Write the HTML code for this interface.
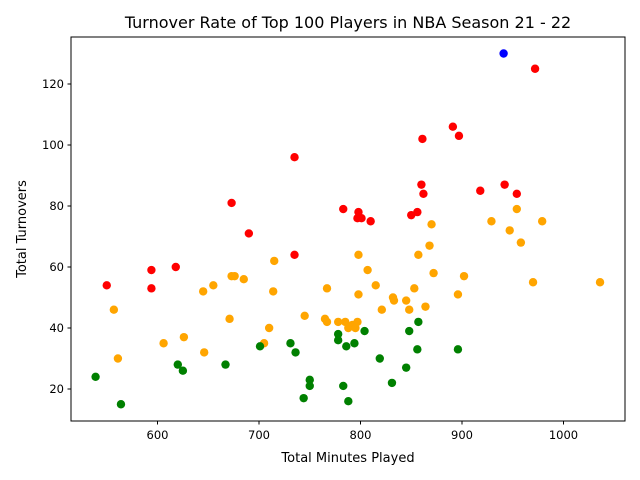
<!DOCTYPE html>
<html><head><meta charset="utf-8"><style>
body{margin:0;background:#fff}
svg{display:block;font-family:"DejaVu Sans","Liberation Sans",sans-serif}
</style></head><body>
<svg id="chart" width="640" height="480">
<rect width="640" height="480" fill="#fff"/>
<text x="348" y="28" text-anchor="middle" font-size="16">Turnover Rate of Top 100 Players in NBA Season 21 - 22</text>
<text x="348" y="462" text-anchor="middle" font-size="13">Total Minutes Played</text>
<text transform="translate(26,229) rotate(-90)" text-anchor="middle" font-size="13">Total Turnovers</text>
<g id="ticks"></g>
<g id="points"></g>
<rect x="71" y="37" width="554" height="384" fill="none" stroke="#000" stroke-width="1"/>
</svg>
<script>
const redX=[550,594,594,618,673,690,735,735,783,798,797,801,810,850,856,860,862,861,891,897,918,942,954,972];
const redY=[54,53,59,60,81,71,96,64,79,78,76,76,75,77,78,87,84,102,106,103,85,87,84,125];
const blueX=[941];
const blueY=[130];
const orangeX=[557,561,606,626,645,646,655,671,673,676,685,705,710,715,714,745,767,765,767,778,785,788,792,797,795,798,798,807,815,821,832,833,845,848,853,857,864,868,870,872,896,902,929,947,954,958,970,979,1036];
const orangeY=[46,30,35,37,52,32,54,43,57,57,56,35,40,62,52,44,53,43,42,42,42,40,41,42,40,51,64,59,54,46,50,49,49,46,53,64,47,67,74,58,51,57,75,72,79,68,55,75,55];
const greenX=[539,564,620,625,667,701,731,736,744,750,750,778,778,783,786,788,794,804,819,831,845,848,857,856,896];
const greenY=[24,15,28,26,28,34,35,32,17,23,21,36,38,21,34,16,35,39,30,22,27,39,42,33,33];
const xTicks=[600,700,800,900,1000];
const yTicks=[20,40,60,80,100,120];
const NS="http://www.w3.org/2000/svg";
const sx=v=>157.5+(v-600)*1.015;
const sy=v=>389-(v-20)*3.05;
const tk=document.getElementById('ticks');
function mk(tag,attrs,parent){const e=document.createElementNS(NS,tag);for(const k in attrs)e.setAttribute(k,attrs[k]);parent.appendChild(e);return e;}
xTicks.forEach(t=>{
 const l=mk('line',{x1:sx(t),x2:sx(t),y1:421,y2:424.5,stroke:'#000'},tk);
 
 
 const tx=mk('text',{x:sx(t),y:439,'text-anchor':'middle','font-size':'11.5'},tk);
 tx.textContent=t;
 
 
});
yTicks.forEach(t=>{
 const l=mk('line',{x1:67.5,x2:71,y1:sy(t),y2:sy(t),stroke:'#000'},tk);
 
 
 const tx=mk('text',{x:64,y:sy(t)+4,'text-anchor':'end','font-size':'11.5'},tk);
 tx.textContent=t;
 
 
});
const pg=document.getElementById('points');
function series(xs,ys,color,name){
 xs.forEach((x,i)=>{
  const c=mk('circle',{cx:sx(x),cy:sy(ys[i]),r:4.2,fill:color},pg);
  
  
 });
}
series(redX,redY,'#ff0000','red-point');
series(blueX,blueY,'#0000ff','blue-point');
series(orangeX,orangeY,'#ffa500','orange-point');
series(greenX,greenY,'#008000','green-point');
</script>
</body></html>
